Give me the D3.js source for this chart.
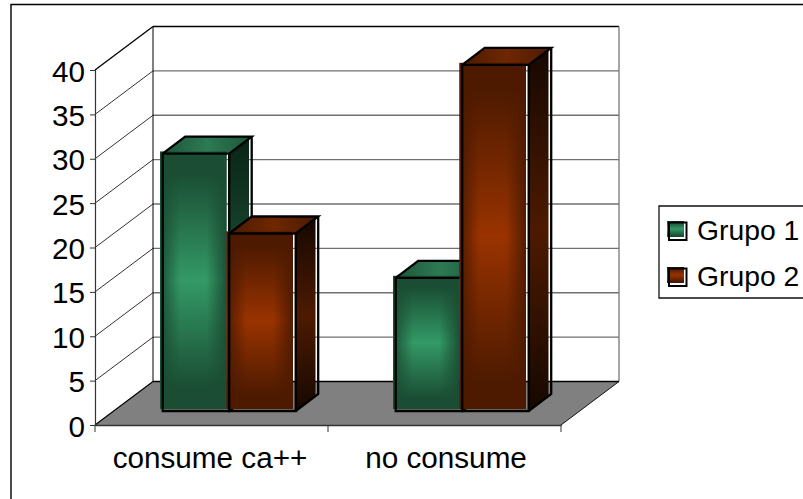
<!DOCTYPE html>
<html>
<head>
<meta charset="utf-8">
<script src="https://cdn.jsdelivr.net/npm/d3@7/dist/d3.min.js"></script>
<style>
html, body { margin: 0; padding: 0; background: #fff; overflow: hidden; }
svg { display: block; font-family: "Liberation Sans", Arial, sans-serif; }
</style>
</head>
<body>
<svg id="chart" width="803" height="499"></svg>
<script>
// Chart data
const categories = ["consume ca++", "no consume"];
const seriesNames = ["Grupo 1", "Grupo 2"];
const grupo1 = [29, 15];
const grupo2 = [20, 39];
const yTicks = [0, 5, 10, 15, 20, 25, 30, 35, 40];

// Face colours for each series: centre and edge of the shaded front,
// then the darker top and side faces.
const frontCentre = ["#339966", "#993300"];
const frontEdge = ["#1a4d33", "#4d1a00"];
const topCentre = ["#2d7a54", "#6e2700"];
const topEdge = ["#1d553a", "#4d1a00"];
const sideCentre = ["#1a4d33", "#4d1a00"];
const sideEdge = ["#0a2416", "#160800"];

const svg = d3.select("#chart");
const defs = svg.append("defs");

// Plot geometry of the oblique 3D box
const plot = { left: 95, right: 561, bottom: 425, top: 70 };
const wall = { dx: 58, dy: 43.5 };      // floor depth, front edge to back wall
const base = { dx: 17.7, dy: 14 };      // where the bars stand on the floor
const barDepth = { dx: 22.5, dy: 17 };  // depth of one bar
const fillShift = { x: -2.7, y: -2 };   // fills sit slightly off their outlines

const y = d3.scaleLinear().domain([0, 40]).range([plot.bottom, plot.top]);
const x0 = d3.scaleBand().domain(categories).range([plot.left, plot.right])
  .paddingInner(0.4292).paddingOuter(0.2146);
const x1 = d3.scaleBand().domain(seriesNames).range([0, x0.bandwidth()]);

const poly = pts => pts.map(p => p.join(",")).join(" ");

// Page frame: only the top and left edges are ruled
svg.append("path").attr("d", "M11,499V4.5H803")
  .attr("fill", "none").attr("stroke", "#000").attr("stroke-width", 1.4);

// Gradients
function linear(id, horizontal, stops) {
  const g = defs.append("linearGradient").attr("id", id)
    .attr("x1", 0).attr("y1", 0)
    .attr("x2", horizontal ? 1 : 0).attr("y2", horizontal ? 0 : 1);
  stops.forEach(([o, c, a]) => g.append("stop").attr("offset", o)
    .attr("stop-color", c).attr("stop-opacity", a === undefined ? 1 : a));
}
seriesNames.forEach((_, i) => {
  const e = frontEdge[i], c = frontCentre[i];
  linear(`frontV${i}`, false, [[0, e], [0.08, e], [0.5, c], [0.92, e], [1, e]]);
  linear(`frontH${i}`, true, [[0, e, 0.95], [0.3, e, 0], [0.7, e, 0], [1, e, 0.95]]);
  linear(`top${i}`, true, [[0, topEdge[i]], [0.5, topCentre[i]], [1, topEdge[i]]]);
  linear(`side${i}`, false, [[0, sideEdge[i]], [0.5, sideCentre[i]], [1, sideEdge[i]]]);
});

// Floor and back wall
const floor = svg.append("g");
floor.append("polygon")
  .attr("points", poly([
    [plot.left, plot.bottom], [plot.right, plot.bottom],
    [plot.right + wall.dx, plot.bottom - wall.dy], [plot.left + wall.dx, plot.bottom - wall.dy]
  ]))
  .attr("fill", "#808080");

const grid = svg.append("g");
yTicks.filter(t => t > 0).forEach(t => {
  const yy = y(t);
  const top = t === 40;
  grid.append("line")
    .attr("x1", plot.left).attr("y1", yy)
    .attr("x2", plot.left + wall.dx).attr("y2", yy - wall.dy)
    .attr("stroke", top ? "#000" : "#333").attr("stroke-width", top ? 1.3 : 1);
  grid.append("line")
    .attr("x1", plot.left + wall.dx).attr("y1", yy - wall.dy)
    .attr("x2", plot.right + wall.dx).attr("y2", yy - wall.dy)
    .attr("stroke", top ? "#000" : "#707070").attr("stroke-width", top ? 1.5 : 1.4);
});
grid.append("line")
  .attr("x1", plot.left + wall.dx).attr("x2", plot.left + wall.dx)
  .attr("y1", y(40) - wall.dy).attr("y2", plot.bottom - wall.dy)
  .attr("stroke", "#000").attr("stroke-width", 1);
grid.append("line")
  .attr("x1", plot.right + wall.dx).attr("x2", plot.right + wall.dx)
  .attr("y1", y(40) - wall.dy).attr("y2", plot.bottom - wall.dy)
  .attr("stroke", "#808080").attr("stroke-width", 1.4);
grid.append("line")
  .attr("x1", plot.left + wall.dx).attr("x2", plot.right + wall.dx)
  .attr("y1", plot.bottom - wall.dy).attr("y2", plot.bottom - wall.dy)
  .attr("stroke", "#000").attr("stroke-width", 1.4);
grid.append("line")
  .attr("x1", plot.left).attr("y1", plot.bottom)
  .attr("x2", plot.left + wall.dx).attr("y2", plot.bottom - wall.dy)
  .attr("stroke", "#000").attr("stroke-width", 1.2);
grid.append("line")
  .attr("x1", plot.right).attr("y1", plot.bottom)
  .attr("x2", plot.right + wall.dx).attr("y2", plot.bottom - wall.dy)
  .attr("stroke", "#111").attr("stroke-width", 1);

// Draw one bar: shaded fills first, then the black wireframe
function drawBar(g, i, xl, xr, yt, yb) {
  const d = barDepth;
  const fl = xl + fillShift.x, fr = xr + fillShift.x;
  const ft = yt + fillShift.y, fb = yb + fillShift.y;

  // Side face stops short of the outline's far edge, leaving a thin light gap
  const sideFar = xr + d.dx + fillShift.x;
  const rise = d.dy * (sideFar - xr) / d.dx;
  g.append("polygon")
    .attr("points", poly([[xr, yt], [sideFar, yt - rise], [sideFar, yb - rise], [xr, yb]]))
    .attr("fill", `url(#side${i})`);
  g.append("polygon")
    .attr("points", poly([[xl, yt], [xr, yt], [xr + d.dx, yt - d.dy], [xl + d.dx, yt - d.dy]]))
    .attr("fill", `url(#top${i})`);

  // Front face: vertical shading with the left and right edges darkened over it
  [`frontV${i}`, `frontH${i}`].forEach(id => {
    g.append("rect").attr("x", fl).attr("y", ft)
      .attr("width", fr - fl).attr("height", fb - ft)
      .attr("fill", `url(#${id})`);
  });

  const wire = [
    `M${xl},${yb}V${yt}H${xr}V${yb}Z`,
    `M${xl},${yt}L${xl + d.dx},${yt - d.dy}H${xr + d.dx}L${xr},${yt}`,
    `M${xr + d.dx},${yt - d.dy}V${yb - d.dy}L${xr},${yb}`
  ].join("");
  g.append("path").attr("d", wire)
    .attr("fill", "none").attr("stroke", "#000").attr("stroke-width", 2.3)
    .attr("stroke-linejoin", "miter");
}

const bars = svg.append("g");
categories.forEach((cat, c) => {
  [grupo1[c], grupo2[c]].forEach((v, i) => {
    const xl = x0(cat) + x1(seriesNames[i]) + base.dx;
    const xr = xl + x1.bandwidth();
    drawBar(bars.append("g"), i, xl, xr, y(v) - base.dy, y(0) - base.dy);
  });
});

// Axes
const axisFont = 29.7;
const yAxis = d3.axisLeft(y).tickValues(yTicks).tickSize(5).tickPadding(5);
const xAxis = d3.axisBottom(x0).tickSize(0).tickPadding(22);

const yG = svg.append("g").attr("transform", `translate(${plot.left},0)`).call(yAxis);
yG.select(".domain").attr("stroke", "#333").attr("stroke-width", 1.2);
yG.selectAll(".tick line").attr("stroke", "#333");
yG.selectAll("text").attr("font-size", axisFont).attr("font-family", "inherit").attr("fill", "#000")
  .attr("dy", "0.37em");

const xG = svg.append("g").attr("transform", `translate(0,${plot.bottom})`).call(xAxis);
xG.select(".domain").attr("stroke", "#333").attr("stroke-width", 1.4);
xG.selectAll("text").attr("font-size", axisFont).attr("font-family", "inherit").attr("fill", "#000")
  .attr("dy", "0.71em")
  .attr("dx", (d, i) => (i === 0 ? -1.5 : 1.5));

// Category separators on the x axis
const xEdges = d3.scaleLinear().domain([0, categories.length]).range([plot.left, plot.right]);
d3.range(categories.length + 1).forEach(k => {
  xG.append("line")
    .attr("x1", xEdges(k)).attr("x2", xEdges(k))
    .attr("y1", 0).attr("y2", 7)
    .attr("stroke", "#333");
});

// Legend: box is open on the right, where it runs off the page
const legendX = 659, legendTop = 206, legendBottom = 298;
const legend = svg.append("g");
legend.append("path")
  .attr("d", `M803,${legendTop}H${legendX}V${legendBottom}H803`)
  .attr("fill", "none").attr("stroke", "#111").attr("stroke-width", 1.3);

const legendY = d3.scalePoint().domain(seriesNames).range([231.5, 277.5]);
seriesNames.forEach((name, i) => {
  const cy = legendY(name);
  const row = legend.append("g");
  row.append("rect").attr("x", 667).attr("y", cy - 10.5).attr("width", 17).attr("height", 16)
    .attr("fill", `url(#frontV${i})`);
  row.append("rect").attr("x", 669).attr("y", cy - 9).attr("width", 17.5).attr("height", 17.5)
    .attr("fill", "none").attr("stroke", "#000").attr("stroke-width", 2);
  row.append("text").attr("x", 697).attr("y", cy + 8.5)
    .attr("font-size", 28.3).attr("fill", "#000").text(name);
});
</script>
</body>
</html>
